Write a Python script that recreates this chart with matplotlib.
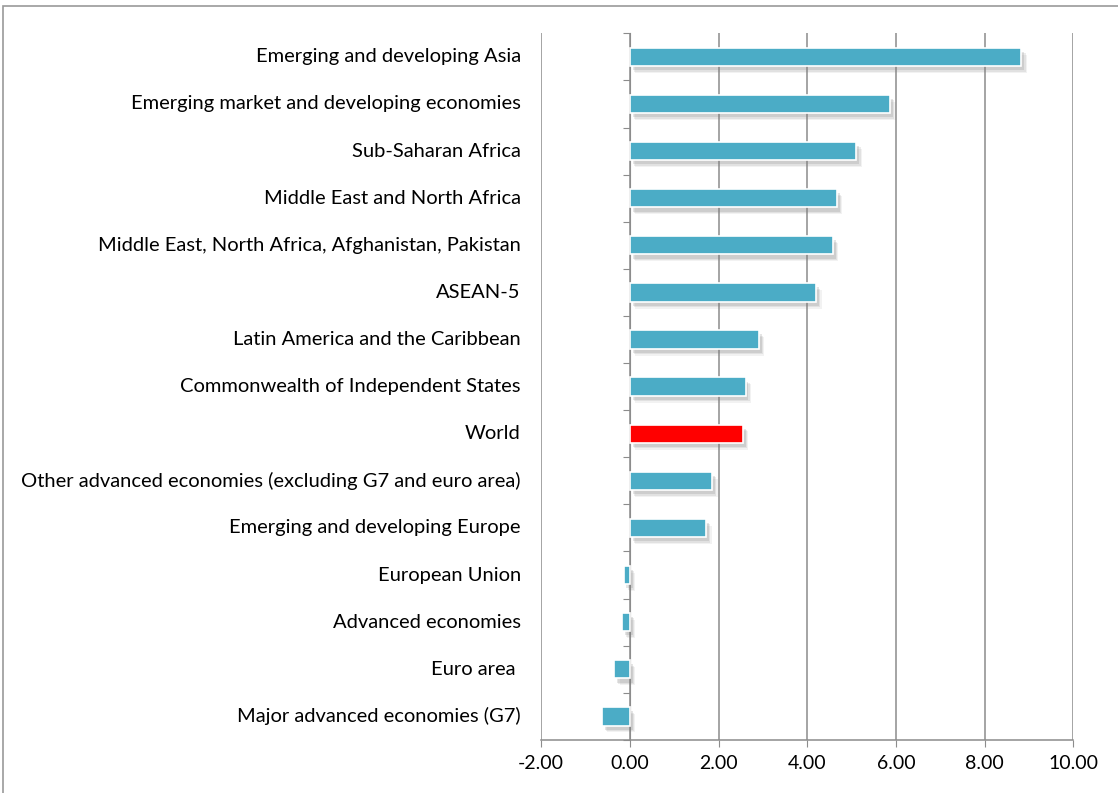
"""
Horizontal bar chart of growth by region
"""
import matplotlib.pyplot as plt
import matplotlib.patheffects as pe
from matplotlib.patches import Rectangle

REGIONS = [
    "Emerging and developing Asia",
    "Emerging market and developing economies",
    "Sub-Saharan Africa",
    "Middle East and North Africa",
    "Middle East, North Africa, Afghanistan, Pakistan",
    "ASEAN-5",
    "Latin America and the Caribbean",
    "Commonwealth of Independent States",
    "World",
    "Other advanced economies (excluding G7 and euro area)",
    "Emerging and developing Europe",
    "European Union",
    "Advanced economies",
    "Euro area ",
    "Major advanced economies (G7)",
]
VALUES = [8.83, 5.87, 5.11, 4.67, 4.58, 4.20, 2.91, 2.61, 2.55,
          1.86, 1.72, -0.14, -0.18, -0.35, -0.63]
XTICKS = [-2, 0, 2, 4, 6, 8, 10]

BLUE = "#4bacc6"
HIGHLIGHT = "World"
GRID = "#8c8c8c"

plt.rcParams['font.family'] = ['Lato', 'DejaVu Sans']

fig = plt.figure(figsize=(11.18, 7.93), dpi=100)
ax = fig.add_axes([0.484, 0.067, 0.476, 0.891])

# thin grey frame round the whole chart
fig.patches.append(Rectangle((0.003, -0.02), 1.2, 1.012, transform=fig.transFigure,
                             fill=False, edgecolor="#9a9a9a", linewidth=1.2))

positions = list(range(len(REGIONS)))
colors = ["#ff0000" if name == HIGHLIGHT else BLUE for name in REGIONS]
# soft drop shadow built from a few faint offset copies
shadow = [pe.SimplePatchShadow(offset=(o, -o - 1), shadow_rgbFace="#808080", alpha=a)
          for o, a in [(4, 0.10), (3, 0.15), (2, 0.2)]] + [pe.Normal()]
bars = ax.barh(positions, VALUES, height=0.39, color=colors,
               edgecolor="white", linewidth=1.2, zorder=3)
for bar in bars:
    bar.set_path_effects(shadow)

ax.set_ylim(len(REGIONS) - 0.5, -0.5)
ax.set_xlim(-2, 10)
ax.set_xticks(XTICKS)
ax.set_xticklabels([f"{t:.2f}" for t in XTICKS], fontsize=14)
ax.xaxis.grid(True, color=GRID, linewidth=1.1, zorder=0)
ax.tick_params(axis="x", direction="out", length=5, color=GRID, pad=6)

# category axis sits on zero, with ticks between the categories
ax.spines["left"].set_position(("data", 0))
ax.spines["left"].set_color(GRID)
ax.spines["bottom"].set_color(GRID)
ax.spines["bottom"].set_linewidth(1.1)
ax.spines["top"].set_visible(False)
ax.spines["right"].set_visible(False)
ax.set_yticks([p - 0.5 for p in positions] + [len(REGIONS) - 0.5])
ax.set_yticklabels([])
ax.tick_params(axis="y", direction="out", length=5, color=GRID)

# labels sit to the left of the plot area
for pos, name in zip(positions, REGIONS):
    ax.text(-0.038, pos, name, transform=ax.get_yaxis_transform(),
            ha="right", va="center", fontsize=14.5)

fig.savefig("out.png", dpi=100)
